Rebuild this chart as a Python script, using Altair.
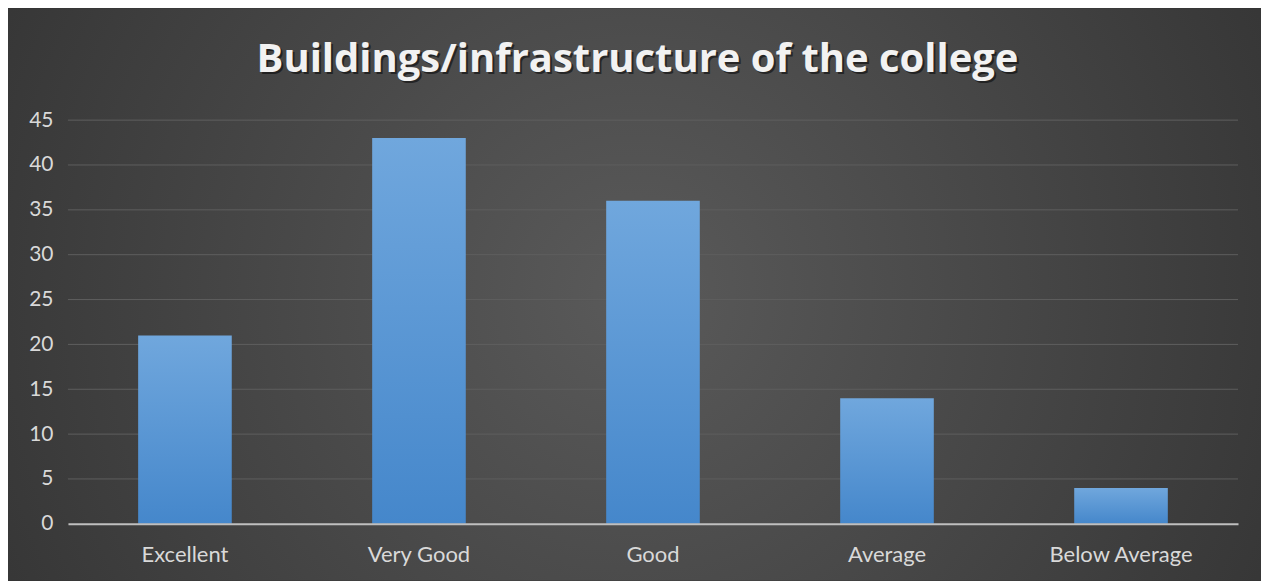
import altair as alt
import pandas as pd

categories = ["Excellent", "Very Good", "Good", "Average", "Below Average"]
values = [21, 43, 36, 14, 4]
y_ticks = [0, 5, 10, 15, 20, 25, 30, 35, 40, 45]
title_text = "Buildings/infrastructure of the college"

df = pd.DataFrame({"cat": categories, "val": values})
grid_df = pd.DataFrame({"g": y_ticks[1:]})

W, H = 1171, 404
PL, PT, PR, PB = 60, 112, 23, 57

bg = alt.Chart(pd.DataFrame({"a": [0]})).mark_rect(
    fill=alt.Gradient(
        gradient="radial",
        stops=[alt.GradientStop(color="#5a5a5a", offset=0),
               alt.GradientStop(color="#2a2a2a", offset=1)],
        x1=0.5, y1=0.5, r1=0, x2=0.5, y2=0.5, r2=0.75,
    )
).encode(
    x=alt.value(-PL), x2=alt.value(W + PR),
    y=alt.value(-PT), y2=alt.value(H + PB),
)

yscale = alt.Scale(domain=[0, 45], nice=False)
yaxis = alt.Axis(title=None, values=y_ticks, ticks=False, domain=False,
                 grid=False, zindex=1,
                 labelColor="#d9d9d9", labelFont="Lato",
                 labelFontSize=21, labelPadding=15)

grid = alt.Chart(grid_df).mark_rule(color="#5e5e5e", strokeWidth=1).encode(
    y=alt.Y("g:Q", scale=yscale, axis=yaxis),
)

bars = alt.Chart(df).mark_bar(
    fill=alt.Gradient(
        gradient="linear",
        stops=[alt.GradientStop(color="#70a7dd", offset=0),
               alt.GradientStop(color="#4587cb", offset=1)],
        x1=0, y1=0, x2=0, y2=1,
    )
).encode(
    x=alt.X("cat:N", sort=categories,
            scale=alt.Scale(paddingInner=0.6, paddingOuter=0.3),
            axis=alt.Axis(title=None, labelAngle=0, ticks=False, zindex=1,
                          domainColor="#bfbfbf", domainWidth=2,
                          labelColor="#d9d9d9", labelFont="Lato",
                          labelFontSize=22, labelPadding=21, grid=False)),
    y=alt.Y("val:Q", scale=yscale, axis=yaxis),
)

title_shadow = alt.Chart(pd.DataFrame({"t": [title_text]})).mark_text(
    font="Open Sans", fontSize=40, fontWeight="bold", color="#000000", opacity=0.5,
    align="center", baseline="alphabetic",
).encode(text="t:N", x=alt.value(570 + 2), y=alt.value(-48 + 2))

title = alt.Chart(pd.DataFrame({"t": [title_text]})).mark_text(
    font="Open Sans", fontSize=40, fontWeight="bold", color="#f2f2f2",
    align="center", baseline="alphabetic",
).encode(text="t:N", x=alt.value(570), y=alt.value(-48))

chart = alt.layer(bg, grid, bars, title_shadow, title).properties(
    width=W, height=H,
    padding={"left": PL, "top": PT, "right": PR, "bottom": PB},
    autosize=alt.AutoSizeParams(type="none"),
    background="#2d2d2d",
).configure_view(stroke=None)

chart.save("out.html", embed_options={"renderer": "svg", "actions": False})
